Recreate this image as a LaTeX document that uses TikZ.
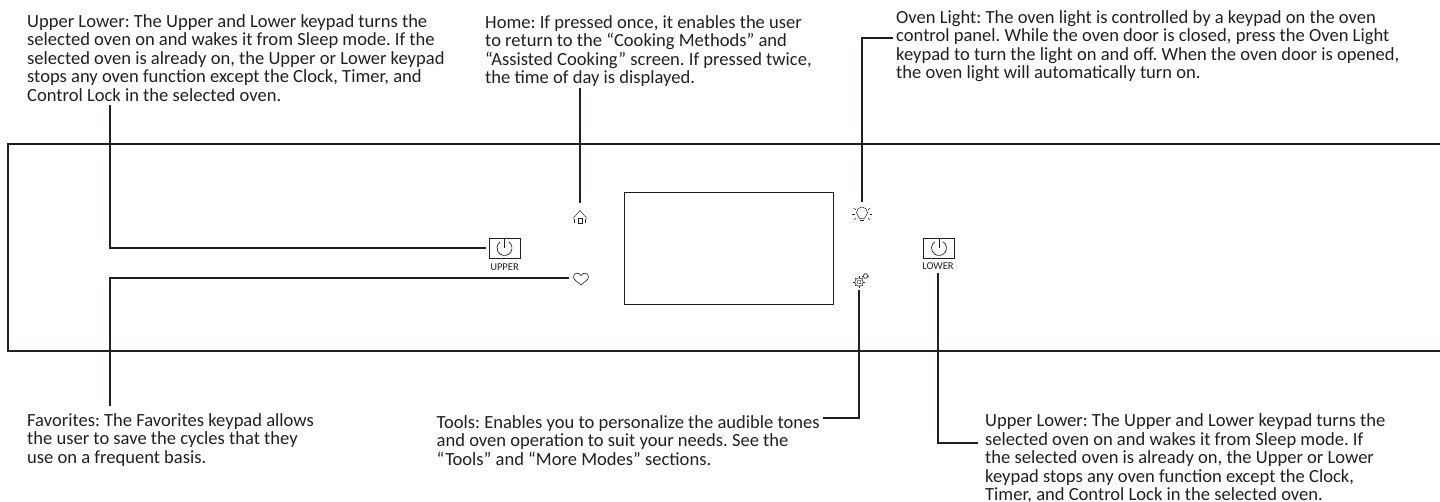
\documentclass[tikz,border=0pt]{standalone}
\usepackage{fontspec}
\setmainfont{Carlito}
\usetikzlibrary{calc}
\definecolor{ink}{HTML}{231F20}
\tikzset{
  note/.style={anchor=north west,align=left,inner sep=0,text=ink,font=\frenchspacing\fontsize{18.55}{18.6}\selectfont},
  keytag/.style={text=ink,inner sep=0,font=\fontsize{10.5}{12}\selectfont},
  leader/.style={ink,line width=1.8pt},
  slot/.style={inner sep=0,minimum width=#1,minimum height=#1},
  keypad/.style={draw=ink,line width=0.9pt,inner sep=0,minimum width=31pt,minimum height=20pt},
  power/.pic={code={%
      \begin{scope}[y=1pt,ink,line width=0.7pt]
      \draw (55:7.5) arc [start angle=55,end angle=-235,radius=7.5];
      \draw (0,0) -- (0,9);
      \end{scope}
  }},
  homeicon/.pic={code={%
      \begin{scope}[y=1pt,ink,line width=0.5pt]
      \draw (-7,-0.5) -- (0,7.5) -- (7,-0.5);
      \draw (-5.5,-1) -- (-5.5,-5.5);
      \draw (5.5,-1) -- (5.5,-5.5);
      \draw (-2,-5.5) rectangle (2,-0.5);
      \end{scope}
  }},
  hearticon/.pic={code={%
      \begin{scope}[y=1pt,ink,line width=0.6pt]
      \draw (0,-7) .. controls (-3,-4) and (-7.5,-2) .. (-7.5,1)
            .. controls (-7.5,5.5) and (-2,6) .. (0,2.5)
            .. controls (2,6) and (7.5,5.5) .. (7.5,1)
            .. controls (7.5,-2) and (3,-4) .. (0,-7) -- cycle;
      \end{scope}
  }},
  bulbicon/.pic={code={%
      \begin{scope}[y=1pt,ink,line width=0.5pt]
      \draw (-2.5,-4.5) .. controls (-3,-2) and (-5.5,-1) .. (-5.5,1.5)
            arc [start angle=180,end angle=0,radius=5.5]
            .. controls (5.5,-1) and (3,-2) .. (2.5,-4.5) -- cycle;
      \draw [line width=0.8pt] (-2,-6.5) -- (2,-6.5);
      \foreach \ang in {0,35,145,180,215,325}
        \draw (\ang:7.5) -- (\ang:10);
      \end{scope}
  }},
  gearicon/.pic={code={%
      \begin{scope}[y=1pt,ink,line width=0.5pt]
      \draw (0,-1) circle (4.2);
      \draw (0,-1) circle (2);
      \foreach \ang in {0,45,...,315}
        \draw ($(0,-1)+(\ang:4.2)$) -- ($(0,-1)+(\ang:5.6)$);
      \draw (6.5,5) circle (2.2);
      \foreach \ang in {0,60,...,300}
        \draw ($(6.5,5)+(\ang:2.2)$) -- ($(6.5,5)+(\ang:3.2)$);
      \end{scope}
  }},
}
\begin{document}
\begin{tikzpicture}[x=1pt,y=-1pt]
    \useasboundingbox (0,0) rectangle (1440,502);

    % oven panel and screen
    \draw [ink,line width=1.8pt] (1440,144) -- (8,144) -- (8,351) -- (1440,351);
    \node (screen) [draw=ink,line width=1pt,inner sep=0,minimum width=209pt,minimum height=112pt] at (728.5,249) {};

    % keypads
    \node (upperkey) [keypad] at (504.5,248) {};
    \node (lowerkey) [keypad] at (939,248) {};
    \path (upperkey) pic {power};
    \path (lowerkey) pic {power};
    \node (uppertag) [keytag] at (504.5,267) {UPPER};
    \node (lowertag) [keytag] at (938,266) {LOWER};

    % icons
    \node (home) [slot=30pt] at (580,218) {};
    \node (heart) [slot=24pt] at (581,278) {};
    \node (bulb) [slot=24pt] at (862,214) {};
    \node (gear) [slot=18pt] at (859,281) {};
    \path (home) pic {homeicon};
    \path (heart) pic {hearticon};
    \path (bulb) pic {bulbicon};
    \path (gear) pic {gearicon};

    % notes
    \node (uppernote) [note] at (27,14) {Upper Lower: The Upper and Lower keypad turns the\\selected oven on and wakes it from Sleep mode. If the\\selected oven is already on, the Upper or Lower keypad\\stops any oven function except the Clock, Timer, and\\Control Lock in the selected oven.};
    \node (homenote) [note] at (485,15) {Home: If pressed once, it enables the user\\to return to the “Cooking Methods” and\\“Assisted Cooking” screen. If pressed twice,\\the time of day is displayed.};
    \node (lightnote) [note] at (896,10) {Oven Light: The oven light is controlled by a keypad on the oven\\control panel. While the oven door is closed, press the Oven Light\\keypad to turn the light on and off. When the oven door is opened,\\the oven light will automatically turn on.};
    \node (favnote) [note] at (27,413) {Favorites: The Favorites keypad allows\\the user to save the cycles that they\\use on a frequent basis.};
    \node (toolsnote) [note] at (436.5,415) {Tools: Enables you to personalize the audible tones\\and oven operation to suit your needs. See the\\“Tools” and “More Modes” sections.};
    \node (lowernote) [note] at (985,413.5) {Upper Lower: The Upper and Lower keypad turns the\\selected oven on and wakes it from Sleep mode. If\\the selected oven is already on, the Upper or Lower\\keypad stops any oven function except the Clock,\\Timer, and Control Lock in the selected oven.};

    % free ends of the leaders
    \coordinate (upperend) at (110,105);
    \coordinate (favend) at (110,406);
    \coordinate (homeend) at (580,88);
    \coordinate (lightend) at (893,38);
    \coordinate (toolsend) at (823,418);
    \coordinate (lowerend) at (978,443);

    % leaders
    \draw [leader] (upperend) |- ([xshift=-3pt]upperkey.west);
    \draw [leader] (favend) |- (heart.west);
    \draw [leader] (homeend) -- (home.north);
    \draw [leader] (lightend) -| (bulb.north);
    \draw [leader] (toolsend) -| (gear.south);
    \draw [leader] (lowerend) -| ([yshift=-3pt]lowertag.south);
\end{tikzpicture}
\end{document}
